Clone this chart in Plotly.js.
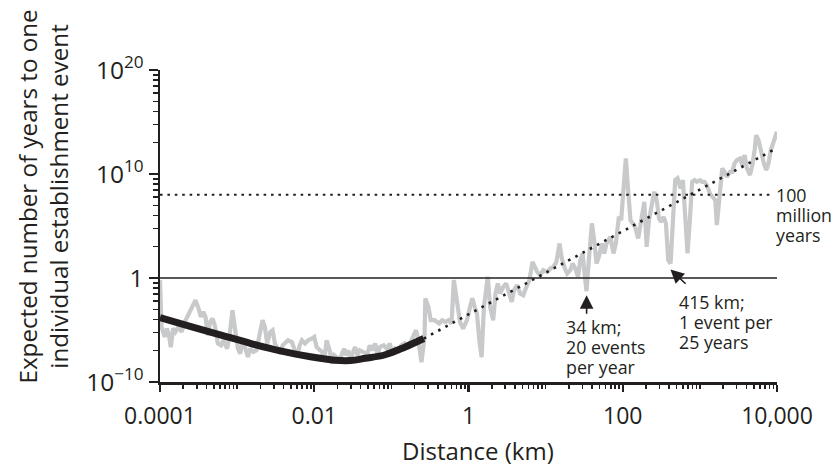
<!DOCTYPE html>
<html>
<head>
<meta charset="utf-8">
<script src="https://cdn.plot.ly/plotly-3.0.1.min.js"></script>
<style>html,body{margin:0;padding:0;background:#fff;}#chart{width:831px;height:465px;}</style>
</head>
<body>
<div id="chart"></div>
<script>
// ---- data (log10 units) ----
const grayLogDist = [-4.00,-3.98,-3.94,-3.91,-3.88,-3.86,-3.83,-3.80,-3.76,-3.72,-3.68,-3.63,-3.58,-3.54,-3.50,-3.47,-3.44,-3.41,-3.38,-3.35,-3.32,-3.29,-3.25,-3.21,-3.18,-3.13,-3.10,-3.06,-3.03,-2.99,-2.96,-2.93,-2.90,-2.86,-2.83,-2.79,-2.75,-2.70,-2.67,-2.64,-2.61,-2.57,-2.54,-2.51,-2.48,-2.44,-2.41,-2.38,-2.34,-2.29,-2.25,-2.22,-2.19,-2.16,-2.12,-2.08,-2.03,-2.00,-1.97,-1.93,-1.90,-1.87,-1.84,-1.80,-1.77,-1.74,-1.71,-1.67,-1.64,-1.61,-1.59,-1.56,-1.53,-1.50,-1.47,-1.44,-1.41,-1.37,-1.34,-1.31,-1.28,-1.25,-1.21,-1.18,-1.15,-1.10,-1.06,-1.02,-0.99,-0.95,-0.91,-0.87,-0.83,-0.80,-0.76,-0.72,-0.68,-0.65,-0.61,-0.57,-0.56,-0.52,-0.49,-0.44,-0.38,-0.34,-0.30,-0.26,-0.22,-0.19,-0.15,-0.11,-0.07,-0.02,0.02,0.05,0.08,0.11,0.14,0.17,0.20,0.25,0.28,0.32,0.35,0.38,0.41,0.45,0.49,0.53,0.56,0.59,0.63,0.67,0.71,0.75,0.79,0.83,0.86,0.89,0.93,0.97,1.02,1.06,1.10,1.14,1.18,1.21,1.25,1.28,1.32,1.35,1.38,1.42,1.45,1.48,1.50,1.53,1.56,1.60,1.63,1.66,1.69,1.73,1.76,1.79,1.84,1.88,1.91,1.95,1.98,2.01,2.04,2.07,2.10,2.13,2.16,2.20,2.23,2.25,2.28,2.31,2.34,2.38,2.41,2.44,2.47,2.50,2.53,2.56,2.59,2.62,2.65,2.68,2.71,2.75,2.78,2.81,2.84,2.87,2.90,2.93,2.96,3.00,3.03,3.06,3.09,3.13,3.16,3.20,3.22,3.26,3.29,3.32,3.35,3.39,3.42,3.45,3.48,3.52,3.55,3.58,3.61,3.65,3.68,3.71,3.73,3.76,3.79,3.83,3.86,3.89,3.92,3.95,4.00];
const grayLogYears = [-0.21,-4.71,-5.67,-4.86,-5.67,-6.66,-4.83,-5.19,-4.71,-5.19,-4.23,-3.42,-2.78,-2.14,-2.94,-3.74,-3.26,-3.74,-5.51,-4.23,-3.90,-4.54,-6.30,-6.47,-5.99,-6.79,-5.67,-3.10,-4.71,-6.79,-7.27,-6.15,-6.63,-7.59,-6.79,-7.11,-6.95,-5.19,-4.06,-4.71,-6.30,-5.19,-5.02,-6.30,-6.79,-7.27,-6.47,-6.30,-5.99,-6.15,-7.11,-7.59,-6.47,-5.99,-6.30,-5.99,-5.82,-5.67,-6.63,-6.95,-7.11,-7.91,-5.99,-6.95,-8.23,-7.43,-7.59,-7.91,-7.27,-6.79,-7.43,-6.95,-7.75,-7.11,-6.63,-7.43,-6.95,-7.11,-7.14,-7.27,-6.47,-6.95,-6.30,-7.43,-6.63,-6.47,-6.79,-6.30,-7.27,-6.79,-6.95,-6.47,-6.30,-6.79,-6.30,-5.67,-5.02,-5.99,-8.10,-5.67,-1.97,-2.78,-4.06,-4.06,-4.38,-4.06,-4.23,-4.06,-4.38,-0.21,-2.45,-4.23,-4.86,-4.06,-2.78,-1.94,-2.78,-3.42,-5.99,-7.62,-2.78,0.11,-2.78,-4.06,-1.49,-0.53,-1.49,-0.86,-0.53,-1.66,-2.30,-1.17,-0.69,-1.49,-1.66,-0.86,-0.21,1.55,1.07,0.59,0.27,0.75,0.59,0.91,1.07,1.55,3.32,1.88,0.91,0.43,0.75,1.40,0.99,0.11,1.71,2.36,0.75,-1.27,1.71,5.25,3.64,1.40,2.03,3.32,2.36,3.32,3.96,2.36,3.32,5.88,5.56,8.77,11.50,8.45,5.56,5.25,4.92,3.80,5.25,6.53,7.33,2.99,5.56,7.17,8.29,7.49,5.73,5.40,5.88,5.25,1.71,1.40,6.38,9.41,9.58,8.61,9.41,6.53,2.36,5.56,9.25,9.41,9.25,9.41,9.25,9.25,8.93,8.13,7.81,7.49,5.08,8.77,10.54,10.21,9.73,10.21,10.21,11.02,11.34,11.50,10.86,11.82,10.54,9.89,10.86,12.30,13.74,13.26,12.14,11.02,10.38,11.02,12.30,13.10,14.06];
const fitLogDist = [-4.00,-3.61,-3.22,-2.83,-2.44,-2.05,-1.73,-1.53,-1.34,-1.08,-0.82,-0.58];
const fitLogYears = [-3.82,-4.64,-5.46,-6.28,-7.00,-7.57,-7.91,-7.94,-7.72,-7.38,-6.63,-5.82];
const trendLogDist = [-0.58, 4.00];
const trendLogYears = [-5.82, 12.50];
const refLevels = [1, 1e8];
const distSpan = [1e-4, 1e4];
const yearSpan = [1e-10, 1e20];
const xTickVals = [1e-4, 1e-2, 1, 100, 1e4];
const xTickText = ['0.0001', '0.01', '1', '100', '10,000'];
const yTickVals = [1e-10, 1, 1e10, 1e20];
const yTickText = ['10<sup>\u221210</sup>', '1', '10<sup>10</sup>', '10<sup>20</sup>'];
const noteDistances = [34, 415];
const noteTipLogYears = [-1.66, 0.82];
const note34Lines = ['34 km;', '20 events', 'per year'];
const note415Lines = ['415 km;', '1 event per', '25 years'];
const note100MLines = ['100', 'million', 'years'];

// ---- helpers ----
const pow10 = v => Math.pow(10, v);
const ink = '#231f20';
const FONT = 'Open Sans';
const L = 160, T = 70, W = 617, H = 312;
const px = x => (x - L) / W;
const py = y => (T + H - y) / H;

const xMinor = [];
for (let e = -4; e < 4; e++) for (let k = 1; k <= 9; k++) {
  if (k === 1 && e % 2 === 0) continue;
  xMinor.push(k * Math.pow(10, e));
}
const yMinor = [];
[-10, 0, 10].forEach(n => { for (let k = 2; k <= 9; k++) yMinor.push(Math.pow(10, n + 10 * Math.log10(k))); });

const traces = [
  {x: grayLogDist.map(pow10), y: grayLogYears.map(pow10), mode: 'lines',
   line: {color: '#c8c9cb', width: 4.2, shape: 'linear'}, hoverinfo: 'skip'},
  {x: fitLogDist.map(pow10), y: fitLogYears.map(pow10), mode: 'lines',
   line: {color: ink, width: 7, shape: 'spline', smoothing: 1}, hoverinfo: 'skip'},
  {x: trendLogDist.map(pow10), y: trendLogYears.map(pow10), mode: 'lines',
   line: {color: ink, width: 2.6, dash: '2.6px,5.6px'}, hoverinfo: 'skip'},
  {x: distSpan, y: [refLevels[0], refLevels[0]], mode: 'lines',
   line: {color: ink, width: 1.6}, hoverinfo: 'skip'},
  {x: [distSpan[0], distSpan[1] * 0.87], y: [refLevels[1], refLevels[1]], mode: 'lines',
   line: {color: ink, width: 2, dash: '2.6px,4.8px'}, hoverinfo: 'skip'},
  // invisible carriers for the minor-tick overlay axes
  {x: distSpan, y: yearSpan, xaxis: 'x2', yaxis: 'y', mode: 'none', hoverinfo: 'skip'},
  {x: distSpan, y: yearSpan, xaxis: 'x', yaxis: 'y2', mode: 'none', hoverinfo: 'skip'}
];

const annotations = [];
function addLines(lines, leftPx, centers, size) {
  lines.forEach((t, i) => annotations.push({
    text: t, xref: 'paper', yref: 'paper', x: px(leftPx), y: py(centers[i]),
    xanchor: 'left', yanchor: 'middle', showarrow: false,
    font: {family: FONT, size: size, color: ink}
  }));
}
addLines(note34Lines, 564, [326.5, 346.5, 366.5], 17.8);
addLines(note415Lines, 677, [301.5, 321.5, 341.5], 17.8);
addLines(note100MLines, 773.5, [195, 215, 235], 17.8);

// arrows
annotations.push({text: '', xref: 'x', yref: 'y', x: Math.log10(noteDistances[0]), y: noteTipLogYears[0],
  ax: 0, ay: 20, showarrow: true, arrowhead: 2, arrowsize: 1.7, arrowwidth: 1.6, arrowcolor: ink, standoff: 0});
annotations.push({text: '', xref: 'x', yref: 'y', x: Math.log10(noteDistances[1]), y: noteTipLogYears[1],
  ax: 16.7, ay: 15.7, showarrow: true, arrowhead: 2, arrowsize: 1.7, arrowwidth: 1.6, arrowcolor: ink, standoff: 0});

// axis titles
annotations.push({text: 'Distance (km)', xref: 'paper', yref: 'paper', x: px(477.5), y: py(450),
  xanchor: 'center', yanchor: 'middle', showarrow: false, font: {family: FONT, size: 24, color: ink}});
annotations.push({text: 'Expected number of years to one<br>individual establishment event', xref: 'paper', yref: 'paper',
  x: px(42), y: py(196.5), xanchor: 'center', yanchor: 'middle', textangle: -90, showarrow: false,
  font: {family: FONT, size: 24.2, color: ink}});

const minorAxisCommon = {type: 'log', ticks: 'outside', tickwidth: 1.6, tickcolor: ink, showticklabels: false,
  showline: false, showgrid: false, zeroline: false, tickmode: 'array'};

const layout = {
  width: 831, height: 465,
  margin: {l: L, r: 831 - L - W, t: T, b: 465 - T - H, pad: 0},
  paper_bgcolor: '#fff', plot_bgcolor: '#fff',
  showlegend: false,
  font: {family: FONT, color: ink},
  xaxis: {type: 'log', range: [-4, 4], tickmode: 'array', tickvals: xTickVals, ticktext: xTickText,
    ticks: 'outside', ticklen: 7.5, tickwidth: 2.2, tickcolor: ink, showline: true, linewidth: 2.5, linecolor: ink,
    showgrid: false, zeroline: false, tickfont: {family: FONT, size: 23, color: ink}, ticklabelstandoff: 4},
  yaxis: {type: 'log', range: [-10, 20], tickmode: 'array', tickvals: yTickVals, ticktext: yTickText,
    ticks: 'outside', ticklen: 9, tickwidth: 2.2, tickcolor: ink, showline: true, linewidth: 2.5, linecolor: ink,
    showgrid: false, zeroline: false, tickfont: {family: FONT, size: 24.5, color: ink}},
  xaxis2: Object.assign({}, minorAxisCommon, {overlaying: 'x', anchor: 'y', side: 'bottom', range: [-4, 4],
    tickvals: xMinor, ticktext: xMinor.map(() => ''), ticklen: 5.5}),
  yaxis2: Object.assign({}, minorAxisCommon, {overlaying: 'y', anchor: 'x', side: 'left', range: [-10, 20],
    tickvals: yMinor, ticktext: yMinor.map(() => ''), ticklen: 6.5}),
  annotations: annotations
};

Plotly.newPlot('chart', traces, layout, {staticPlot: true, displayModeBar: false});
</script>
</body>
</html>
